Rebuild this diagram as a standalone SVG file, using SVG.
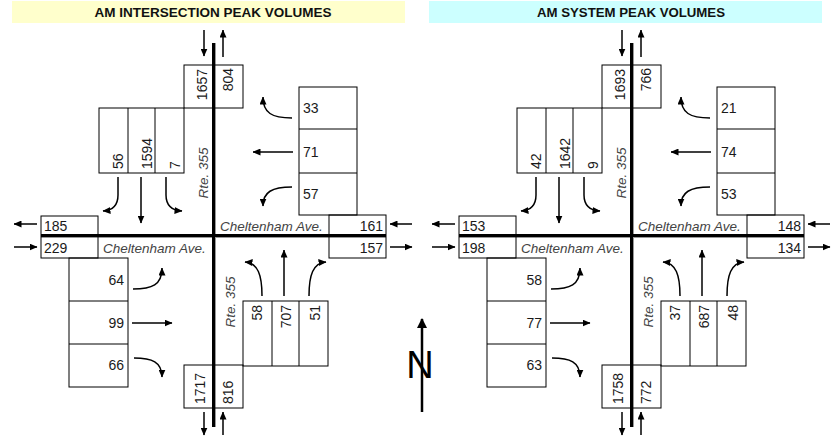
<svg xmlns="http://www.w3.org/2000/svg" width="832" height="437" viewBox="0 0 832 437">
<style>
.bg{fill:#fff}
.road{stroke:#000;stroke-width:3;fill:none}
.shadow{stroke:#999;stroke-width:1;fill:none}
.box{fill:none;stroke:#000;stroke-width:1}
.arr{fill:none;stroke:#000;stroke-width:1.5;marker-end:url(#ah)}
.num{font-family:"Liberation Sans",Arial,sans-serif;font-size:14px;fill:#1a1a1a}
.end{text-anchor:end}
.mid{text-anchor:middle}
.street{font-family:"Liberation Sans",Arial,sans-serif;font-size:13.5px;font-style:italic;fill:#444}
.hdr{font-family:"Liberation Sans",Arial,sans-serif;font-size:12.5px;font-weight:bold;fill:#111;text-anchor:middle}
.north{font-family:"Liberation Sans",Arial,sans-serif;font-size:38px;fill:#000;text-anchor:middle}
</style>
<defs>
<marker id="ah" markerUnits="userSpaceOnUse" markerWidth="8" markerHeight="7" refX="7.5" refY="3.5" orient="auto">
<path d="M0,0 L8,3.5 L0,7 z" fill="#000"/>
</marker>
<marker id="ahN" markerUnits="userSpaceOnUse" markerWidth="10" markerHeight="10" refX="9" refY="5" orient="auto">
<path d="M0,0 L10,5 L0,10 z" fill="#000"/>
</marker>
</defs>
<rect class="bg" x="0" y="0" width="832" height="437"/>

<g id="header-left">
<rect x="12" y="1" width="393" height="22" fill="#ffffcc"/>
<text class="hdr" x="213" y="17" textLength="237" lengthAdjust="spacingAndGlyphs">AM INTERSECTION PEAK VOLUMES</text>
</g>
<g id="header-right">
<rect x="429" y="1" width="393" height="22" fill="#ccffff"/>
<text class="hdr" x="631" y="17" textLength="188" lengthAdjust="spacingAndGlyphs">AM SYSTEM PEAK VOLUMES</text>
</g>

<!-- LEFT PANEL -->
<g id="panel-left">
<g id="roads-left">
<line class="shadow" x1="215.5" y1="43" x2="215.5" y2="427"/>
<line class="shadow" x1="41" y1="237.5" x2="386" y2="237.5"/>
<line class="road" x1="213.5" y1="43" x2="213.5" y2="427"/>
<line class="road" x1="41" y1="235.5" x2="386" y2="235.5"/>
<text class="street" x="103" y="253">Cheltenham Ave.</text>
<text class="street" x="220" y="231">Cheltenham Ave.</text>
<text class="street mid" transform="translate(208,173) rotate(-90)">Rte. 355</text>
<text class="street mid" transform="translate(235,302) rotate(-90)">Rte. 355</text>
</g>
<g id="north-leg-left">
<rect class="box" x="184" y="65" width="59" height="43"/>
<text class="num end" transform="translate(207,69) rotate(-90)">1657</text>
<text class="num end" transform="translate(233,68) rotate(-90)">804</text>
</g>
<g id="sb-lanes-left">
<rect class="box" x="99" y="108" width="85" height="65"/>
<line class="box" x1="128" y1="108" x2="128" y2="173"/>
<line class="box" x1="155" y1="108" x2="155" y2="173"/>
<text class="num" transform="translate(123,169) rotate(-90)">56</text>
<text class="num" transform="translate(152,169) rotate(-90)">1594</text>
<text class="num" transform="translate(180,169) rotate(-90)">7</text>
</g>
<g id="wb-lanes-left">
<rect class="box" x="299" y="87" width="58" height="128"/>
<line class="box" x1="299" y1="129" x2="357" y2="129"/>
<line class="box" x1="299" y1="173" x2="357" y2="173"/>
<text class="num" x="303" y="113">33</text>
<text class="num" x="303" y="157">71</text>
<text class="num" x="303" y="199">57</text>
</g>
<g id="east-leg-left">
<rect class="box" x="329" y="215" width="57" height="43"/>
<text class="num end" x="383" y="231">161</text>
<text class="num end" x="383" y="253">157</text>
</g>
<g id="west-leg-left">
<rect class="box" x="41" y="216" width="57" height="42"/>
<text class="num" x="44" y="231">185</text>
<text class="num" x="44" y="253">229</text>
</g>
<g id="eb-lanes-left">
<rect class="box" x="69" y="258" width="59" height="129"/>
<line class="box" x1="69" y1="301" x2="128" y2="301"/>
<line class="box" x1="69" y1="344" x2="128" y2="344"/>
<text class="num end" x="124" y="285">64</text>
<text class="num end" x="124" y="328">99</text>
<text class="num end" x="124" y="370">66</text>
</g>
<g id="nb-lanes-left">
<rect class="box" x="243" y="301" width="85" height="65"/>
<line class="box" x1="272" y1="301" x2="272" y2="366"/>
<line class="box" x1="299" y1="301" x2="299" y2="366"/>
<text class="num end" transform="translate(262,305) rotate(-90)">58</text>
<text class="num end" transform="translate(291,305) rotate(-90)">707</text>
<text class="num end" transform="translate(320,305) rotate(-90)">51</text>
</g>
<g id="south-leg-left">
<rect class="box" x="184" y="365" width="59" height="43"/>
<text class="num" transform="translate(205,404) rotate(-90)">1717</text>
<text class="num" transform="translate(233,404) rotate(-90)">816</text>
</g>
<g id="connectors-left">
<path class="arr" d="M204,30 L204,56"/>
<path class="arr" d="M223,57 L223,30"/>
<path class="arr" d="M204,412 L204,435"/>
<path class="arr" d="M223,435 L223,412"/>
<path class="arr" d="M37,224 L14,224"/>
<path class="arr" d="M14,247 L37,247"/>
<path class="arr" d="M412,224 L390,224"/>
<path class="arr" d="M390,247 L412,247"/>
<path class="arr" d="M118,177 L118,195 Q118,210 103,211"/>
<path class="arr" d="M141,177 L141,223"/>
<path class="arr" d="M166,177 L166,195 Q166,210 182,211"/>
<path class="arr" d="M292,118 C272,118 263,113 263,97"/>
<path class="arr" d="M293,152 L253,152"/>
<path class="arr" d="M292,187 C272,187 263,192 263,206"/>
<path class="arr" d="M133,289 C152,289 162,285 162,268"/>
<path class="arr" d="M132,323 L172,323"/>
<path class="arr" d="M134,358 C152,358 162,362 162,377"/>
<path class="arr" d="M262,296 C262,275 258,263 245,262"/>
<path class="arr" d="M284,296 L284,250"/>
<path class="arr" d="M309,296 C309,275 313,263 326,262"/>
</g>
</g>

<!-- RIGHT PANEL -->
<g id="panel-right" transform="translate(418,0)">
<g id="roads-right">
<line class="shadow" x1="215.5" y1="43" x2="215.5" y2="427"/>
<line class="shadow" x1="41" y1="237.5" x2="386" y2="237.5"/>
<line class="road" x1="213.5" y1="43" x2="213.5" y2="427"/>
<line class="road" x1="41" y1="235.5" x2="386" y2="235.5"/>
<text class="street" x="103" y="253">Cheltenham Ave.</text>
<text class="street" x="220" y="231">Cheltenham Ave.</text>
<text class="street mid" transform="translate(208,173) rotate(-90)">Rte. 355</text>
<text class="street mid" transform="translate(235,302) rotate(-90)">Rte. 355</text>
</g>
<g id="north-leg-right">
<rect class="box" x="184" y="65" width="59" height="43"/>
<text class="num end" transform="translate(207,69) rotate(-90)">1693</text>
<text class="num end" transform="translate(233,68) rotate(-90)">766</text>
</g>
<g id="sb-lanes-right">
<rect class="box" x="99" y="108" width="85" height="65"/>
<line class="box" x1="128" y1="108" x2="128" y2="173"/>
<line class="box" x1="155" y1="108" x2="155" y2="173"/>
<text class="num" transform="translate(123,169) rotate(-90)">42</text>
<text class="num" transform="translate(152,169) rotate(-90)">1642</text>
<text class="num" transform="translate(180,169) rotate(-90)">9</text>
</g>
<g id="wb-lanes-right">
<rect class="box" x="299" y="87" width="58" height="128"/>
<line class="box" x1="299" y1="129" x2="357" y2="129"/>
<line class="box" x1="299" y1="173" x2="357" y2="173"/>
<text class="num" x="303" y="113">21</text>
<text class="num" x="303" y="157">74</text>
<text class="num" x="303" y="199">53</text>
</g>
<g id="east-leg-right">
<rect class="box" x="329" y="215" width="57" height="43"/>
<text class="num end" x="383" y="231">148</text>
<text class="num end" x="383" y="253">134</text>
</g>
<g id="west-leg-right">
<rect class="box" x="41" y="216" width="57" height="42"/>
<text class="num" x="44" y="231">153</text>
<text class="num" x="44" y="253">198</text>
</g>
<g id="eb-lanes-right">
<rect class="box" x="69" y="258" width="59" height="129"/>
<line class="box" x1="69" y1="301" x2="128" y2="301"/>
<line class="box" x1="69" y1="344" x2="128" y2="344"/>
<text class="num end" x="124" y="285">58</text>
<text class="num end" x="124" y="328">77</text>
<text class="num end" x="124" y="370">63</text>
</g>
<g id="nb-lanes-right">
<rect class="box" x="243" y="301" width="85" height="65"/>
<line class="box" x1="272" y1="301" x2="272" y2="366"/>
<line class="box" x1="299" y1="301" x2="299" y2="366"/>
<text class="num end" transform="translate(262,305) rotate(-90)">37</text>
<text class="num end" transform="translate(291,305) rotate(-90)">687</text>
<text class="num end" transform="translate(320,305) rotate(-90)">48</text>
</g>
<g id="south-leg-right">
<rect class="box" x="184" y="365" width="59" height="43"/>
<text class="num" transform="translate(205,404) rotate(-90)">1758</text>
<text class="num" transform="translate(233,404) rotate(-90)">772</text>
</g>
<g id="connectors-right">
<path class="arr" d="M204,30 L204,56"/>
<path class="arr" d="M223,57 L223,30"/>
<path class="arr" d="M204,412 L204,435"/>
<path class="arr" d="M223,435 L223,412"/>
<path class="arr" d="M37,224 L14,224"/>
<path class="arr" d="M14,247 L37,247"/>
<path class="arr" d="M412,224 L390,224"/>
<path class="arr" d="M390,247 L412,247"/>
<path class="arr" d="M118,177 L118,195 Q118,210 103,211"/>
<path class="arr" d="M141,177 L141,223"/>
<path class="arr" d="M166,177 L166,195 Q166,210 182,211"/>
<path class="arr" d="M292,118 C272,118 263,113 263,97"/>
<path class="arr" d="M293,152 L253,152"/>
<path class="arr" d="M292,187 C272,187 263,192 263,206"/>
<path class="arr" d="M133,289 C152,289 162,285 162,268"/>
<path class="arr" d="M132,323 L172,323"/>
<path class="arr" d="M134,358 C152,358 162,362 162,377"/>
<path class="arr" d="M262,296 C262,275 258,263 245,262"/>
<path class="arr" d="M284,296 L284,250"/>
<path class="arr" d="M309,296 C309,275 313,263 326,262"/>
</g>
</g>

<g id="north-arrow">
<text class="north" x="420" y="378">N</text>
<path d="M422,412 L422,319" stroke="#000" stroke-width="2.5" fill="none" marker-end="url(#ahN)"/>
</g>
</svg>
